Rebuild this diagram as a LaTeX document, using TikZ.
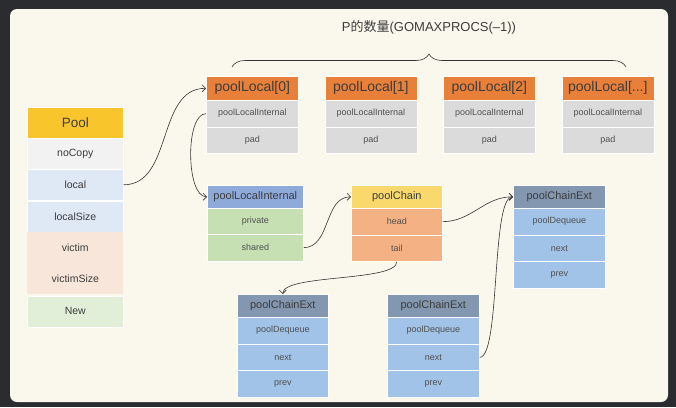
\documentclass[tikz,border=0pt]{standalone}
\usepackage{fontspec}
\setmainfont{Liberation Sans}
\newfontfamily\cjk{Noto Sans CJK SC}
\usetikzlibrary{arrows.meta,decorations.pathreplacing}
\definecolor{bgdark}{HTML}{2B2C2F}
\definecolor{cream}{HTML}{FAF8EC}
\definecolor{txtgray}{HTML}{3C3C3C}
\definecolor{celltxt}{HTML}{505050}
\definecolor{linegray}{HTML}{333333}
\definecolor{poolhead}{HTML}{F9C52C}
\definecolor{nocopybg}{HTML}{F2F2F2}
\definecolor{localbg}{HTML}{DFE8F5}
\definecolor{victimbg}{HTML}{F8E6DA}
\definecolor{newbg}{HTML}{E2EFD8}
\definecolor{lochead}{HTML}{E8803A}
\definecolor{loccell}{HTML}{DBDBDB}
\definecolor{inthead}{HTML}{8EAADB}
\definecolor{intcell}{HTML}{C6E0B4}
\definecolor{chainhead}{HTML}{F9D96C}
\definecolor{chaincell}{HTML}{F3B184}
\definecolor{exthead}{HTML}{8497B0}
\definecolor{extcell}{HTML}{A0C3E7}
\begin{document}
\begin{tikzpicture}[x=1pt, y=-1pt,
    box/.style={draw=white, line width=0.6pt, inner sep=0pt, anchor=north west, text=txtgray},
    poolcell/.style={box, minimum width=96pt, minimum height=31pt, font=\fontsize{10.5}{12}\selectfont},
    headbig/.style={box, minimum width=92pt, minimum height=24pt, fill=lochead, font=\fontsize{14}{16}\selectfont},
    headsmall/.style={box, minimum width=92pt, minimum height=23pt, font=\fontsize{11}{13}\selectfont},
    cell/.style={box, text=celltxt, minimum width=92pt, minimum height=26.7pt, font=\fontsize{9}{11}\selectfont},
    link/.style={draw=linegray, line width=0.6pt, -{Straight Barb[length=3.5pt,width=7pt]}}]

    % background
    \fill[bgdark] (0,0) rectangle (676,407);
    \fill[cream, rounded corners=7pt] (10,9) rectangle (668,402);

    % Pool
    \node[poolcell, fill=poolhead, font=\fontsize{13.5}{15}\selectfont] (pool) at (27,107) {Pool};
    \node[poolcell, fill=nocopybg] (nocopy) at (27,138) {noCopy};
    \node[poolcell, fill=localbg] (local) at (27,169) {local};
    \node[poolcell, fill=localbg] (localsize) at (27,200.5) {localSize};
    \node[poolcell, fill=victimbg, draw=none] (victim) at (27,232) {victim};
    \node[poolcell, fill=victimbg, draw=none] (victimsize) at (27,263) {victimSize};
    \node[poolcell, fill=newbg] (new) at (27,295.5) {New};

    % poolLocal
    \node[headbig] (pl0) at (206,76) {poolLocal[0]};
    \node[cell, fill=loccell] (pl0int) at (206,100) {poolLocalInternal};
    \node[cell, fill=loccell] (pl0pad) at (206,126.5) {pad};
    \node[headbig] (pl1) at (324.5,76) {poolLocal[1]};
    \node[cell, fill=loccell] (pl1int) at (324.5,100) {poolLocalInternal};
    \node[cell, fill=loccell] (pl1pad) at (324.5,126.5) {pad};
    \node[headbig] (pl2) at (443,76) {poolLocal[2]};
    \node[cell, fill=loccell] (pl2int) at (443,100) {poolLocalInternal};
    \node[cell, fill=loccell] (pl2pad) at (443,126.5) {pad};
    \node[headbig] (pln) at (561.5,76) {poolLocal[...]};
    \node[cell, fill=loccell] (plnint) at (561.5,100) {poolLocalInternal};
    \node[cell, fill=loccell] (plnpad) at (561.5,126.5) {pad};

    \draw[linegray, line width=0.6pt, decorate, decoration={brace, amplitude=13pt}] (232,67) -- (626,67);
    \node[text=txtgray, font=\fontsize{13}{15}\selectfont] (count) at (429,27) {P{\cjk 的数量}(GOMAXPROCS(--1))};

    % poolLocalInternal
    \node[headsmall, fill=inthead, minimum width=96pt] (lint) at (207,185) {poolLocalInternal};
    \node[cell, fill=intcell, minimum width=96pt] (private) at (207,208) {private};
    \node[cell, fill=intcell, minimum width=96pt] (shared) at (207,234) {shared};

    % poolChain
    \node[headsmall, fill=chainhead, minimum width=91pt] (chain) at (351,185) {poolChain};
    \node[cell, fill=chaincell, minimum width=91pt] (head) at (351,208) {head};
    \node[cell, fill=chaincell, minimum width=91pt] (tail) at (351,234.5) {tail};

    % poolChainExt
    \node[headsmall, fill=exthead] (exta) at (513,185) {poolChainExt};
    \node[cell, fill=extcell] (dequea) at (513,208) {poolDequeue};
    \node[cell, fill=extcell] (nexta) at (513,234.7) {next};
    \node[cell, fill=extcell] (preva) at (513,261.4) {prev};

    \node[headsmall, fill=exthead, minimum width=91pt] (extb) at (237,294) {poolChainExt};
    \node[cell, fill=extcell, minimum width=91pt] (dequeb) at (237,317) {poolDequeue};
    \node[cell, fill=extcell, minimum width=91pt] (nextb) at (237,343.7) {next};
    \node[cell, fill=extcell, minimum width=91pt] (prevb) at (237,370.4) {prev};

    \node[headsmall, fill=exthead] (extc) at (387,294) {poolChainExt};
    \node[cell, fill=extcell] (dequec) at (387,317) {poolDequeue};
    \node[cell, fill=extcell] (nextc) at (387,343.7) {next};
    \node[cell, fill=extcell] (prevc) at (387,370.4) {prev};

    % pointers
    \draw[link] (local.east) to[out=0, in=180] (pl0.west);
    \draw[link] (pl0int.west) .. controls +(-21,0) and +(-21,0) .. (lint.west);
    \draw[link] (shared.east) to[out=0, in=180] (chain.west);
    \draw[link] (head.east) to[out=0, in=180] (exta.west);
    \draw[link] (tail.south) .. controls +(0,20) and +(0,-20) .. (extb.north);
    \draw[link] (nextc.east) .. controls +(21,0) and +(-22,0) .. (exta.west);
\end{tikzpicture}
\end{document}
